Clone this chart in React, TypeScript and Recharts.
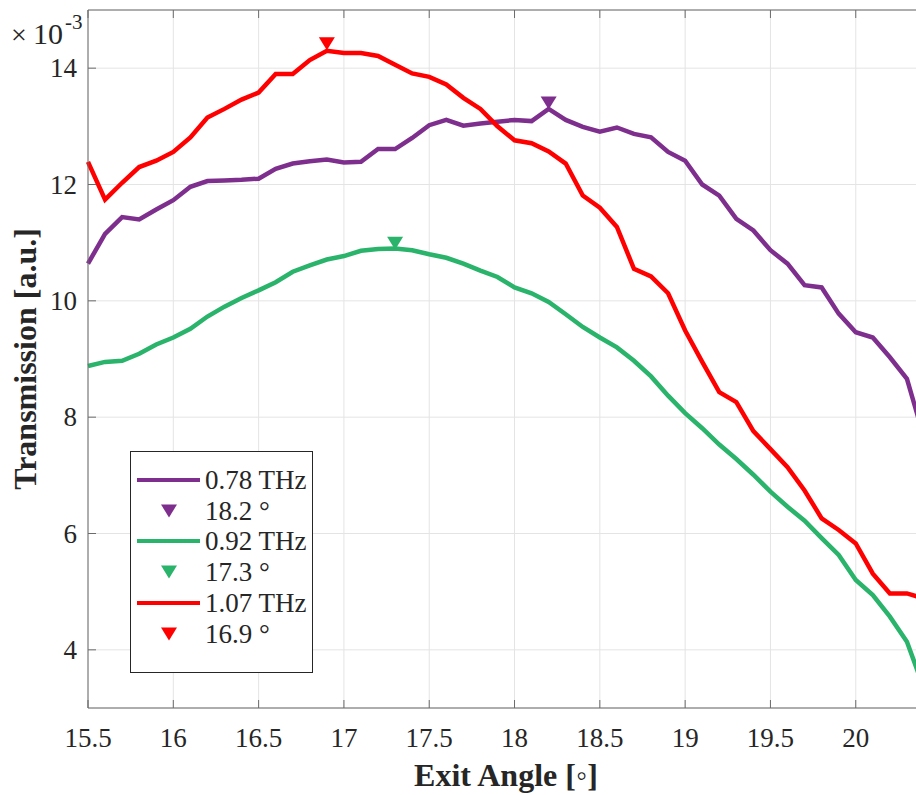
import React from 'react';
import { ComposedChart, Line, Scatter, XAxis, YAxis, CartesianGrid, Legend } from 'recharts';

// exit angle in degrees
const angles = [
  15.5, 15.6, 15.7, 15.8, 15.9, 16.0, 16.1, 16.2, 16.3, 16.4,
  16.5, 16.6, 16.7, 16.8, 16.9, 17.0, 17.1, 17.2, 17.3, 17.4,
  17.5, 17.6, 17.7, 17.8, 17.9, 18.0, 18.1, 18.2, 18.3, 18.4,
  18.5, 18.6, 18.7, 18.8, 18.9, 19.0, 19.1, 19.2, 19.3, 19.4,
  19.5, 19.6, 19.7, 19.8, 19.9, 20.0, 20.1, 20.2, 20.3, 20.4,
];

// transmission, x 1e-3
const thz078 = [
  10.64, 11.15, 11.44, 11.40, 11.57, 11.73, 11.96, 12.06, 12.07, 12.08,
  12.10, 12.27, 12.36, 12.40, 12.43, 12.38, 12.39, 12.61, 12.61, 12.80,
  13.02, 13.11, 13.01, 13.05, 13.08, 13.11, 13.09, 13.30, 13.11, 12.99,
  12.91, 12.98, 12.87, 12.81, 12.56, 12.41, 12.00, 11.81, 11.41, 11.21,
  10.87, 10.64, 10.27, 10.23, 9.78, 9.46, 9.37, 9.03, 8.66, 7.65,
];
const thz092 = [
  8.88, 8.95, 8.97, 9.09, 9.25, 9.37, 9.52, 9.73, 9.90, 10.05,
  10.18, 10.32, 10.50, 10.61, 10.71, 10.77, 10.86, 10.89, 10.90, 10.87,
  10.80, 10.74, 10.64, 10.52, 10.41, 10.23, 10.13, 9.98, 9.77, 9.55,
  9.37, 9.20, 8.97, 8.70, 8.37, 8.07, 7.81, 7.53, 7.28, 7.01,
  6.72, 6.46, 6.22, 5.92, 5.63, 5.20, 4.94, 4.57, 4.14, 3.33,
];
const thz107 = [
  12.39, 11.74, 12.03, 12.30, 12.41, 12.56, 12.81, 13.15, 13.30, 13.46,
  13.58, 13.90, 13.90, 14.14, 14.30, 14.26, 14.26, 14.21, 14.06, 13.91,
  13.85, 13.72, 13.49, 13.30, 13.00, 12.76, 12.71, 12.57, 12.36, 11.81,
  11.60, 11.27, 10.55, 10.42, 10.13, 9.49, 8.95, 8.43, 8.26, 7.76,
  7.45, 7.14, 6.74, 6.26, 6.06, 5.83, 5.31, 4.97, 4.97, 4.88,
];

const seriesNames = ['0.78 THz', '0.92 THz', '1.07 THz'];
const seriesKeys = ['thz078', 'thz092', 'thz107'];
const seriesColors = ['#7E2F8E', '#2AB36A', '#FF0000'];

// peak markers (drawn just above each curve)
const peakAngles = [18.2, 17.3, 16.9];
const peakMarks = [13.4, 10.99, 14.42];
const peakLabels = ['18.2 °', '17.3 °', '16.9 °'];

const xTicks = [15.5, 16, 16.5, 17, 17.5, 18, 18.5, 19, 19.5, 20];
const yTicks = [4, 6, 8, 10, 12, 14];

const chartData = angles.map((a, i) => ({
  angle: a,
  thz078: thz078[i],
  thz092: thz092[i],
  thz107: thz107[i],
}));

const FONT = "'Liberation Serif', 'Times New Roman', serif";
const AXIS = '#6b6b6b';
const TEXT = '#262626';

const DownTriangle = (props: any) => {
  const { cx, cy, fill } = props;
  if (cx == null || cy == null) return null;
  return (
    <polygon
      points={`${cx - 8},${cy - 6.5} ${cx + 8},${cy - 6.5} ${cx},${cy + 6.5}`}
      fill={fill}
    />
  );
};

const XTick = (props: any) => {
  const { x, y, payload } = props;
  return (
    <text x={x} y={y + 19} textAnchor="middle" fontFamily={FONT} fontSize={27} fill={TEXT}>
      {payload.value}
    </text>
  );
};

const YTick = (props: any) => {
  const { x, y, payload } = props;
  return (
    <text x={x} y={y + 9} textAnchor="end" fontFamily={FONT} fontSize={27} fill={TEXT}>
      {payload.value}
    </text>
  );
};

const LegendBox = () => {
  const rowY = [29, 60, 90, 121, 152, 183];
  return (
    <svg width={184} height={223} style={{ display: 'block' }}>
      <rect x={0.5} y={0.5} width={182} height={221} fill="#fff" stroke={TEXT} strokeWidth={1} />
      {seriesNames.map((name, i) => (
        <g key={name}>
          <line x1={7} x2={70} y1={rowY[i * 2]} y2={rowY[i * 2]} stroke={seriesColors[i]} strokeWidth={4} />
          <text x={75} y={rowY[i * 2] + 9} fontFamily={FONT} fontSize={27} fill={TEXT}>{name}</text>
          <DownTriangle cx={39} cy={rowY[i * 2 + 1]} fill={seriesColors[i]} />
          <text x={75} y={rowY[i * 2 + 1] + 9} fontFamily={FONT} fontSize={27} fill={TEXT}>{peakLabels[i]}</text>
        </g>
      ))}
    </svg>
  );
};

export default function App() {
  return (
    <div style={{ position: 'absolute', left: 0, top: 0, width: 916, height: 795, overflow: 'hidden', background: '#fff' }}>
      <ComposedChart width={924} height={795} data={chartData} margin={{ top: 0, right: 0, bottom: 0, left: 0 }}>
        <CartesianGrid stroke="#e4e4e4" strokeWidth={1} />
        <XAxis
          dataKey="angle"
          type="number"
          domain={[15.5, 20.4]}
          ticks={xTicks}
          interval={0}
          height={87}
          tickSize={-8}
          tickMargin={28}
          axisLine={{ stroke: AXIS }}
          tickLine={{ stroke: AXIS }}
          tick={<XTick />}
          label={{
            value: 'Exit Angle [◦]',
            position: 'insideBottom',
            offset: 9,
            style: { fontFamily: FONT, fontSize: 32, fontWeight: 'bold', fill: TEXT },
          }}
        />
        <XAxis
          xAxisId="top"
          orientation="top"
          dataKey="angle"
          type="number"
          domain={[15.5, 20.4]}
          ticks={xTicks}
          interval={0}
          height={10}
          tickSize={-8}
          tickFormatter={() => ''}
          axisLine={{ stroke: AXIS }}
          tickLine={{ stroke: AXIS }}
        />
        <YAxis
          type="number"
          domain={[3, 15]}
          ticks={yTicks}
          interval={0}
          width={88}
          tickSize={-8}
          tickMargin={19}
          axisLine={{ stroke: AXIS }}
          tickLine={{ stroke: AXIS }}
          tick={<YTick />}
          label={{
            value: 'Transmission [a.u.]',
            angle: -90,
            position: 'insideLeft',
            offset: 25,
            style: { fontFamily: FONT, fontSize: 32, fontWeight: 'bold', fill: TEXT, textAnchor: 'middle' },
          }}
        />
        {seriesKeys.map((k, i) => (
          <Line
            key={k}
            type="linear"
            dataKey={k}
            stroke={seriesColors[i]}
            strokeWidth={4.5}
            dot={false}
            activeDot={false}
            isAnimationActive={false}
          />
        ))}
        {peakAngles.map((a, i) => (
          <Scatter
            key={'peak' + i}
            data={[{ angle: a, mark: peakMarks[i] }]}
            dataKey="mark"
            fill={seriesColors[i]}
            shape={DownTriangle}
            isAnimationActive={false}
          />
        ))}
        <Legend
          layout="vertical"
          align="center"
          verticalAlign="middle"
          content={() => <LegendBox />}
          wrapperStyle={{ left: 130, top: 451, width: 184, height: 223 }}
        />
      </ComposedChart>
      <svg width={120} height={60} style={{ position: 'absolute', left: 0, top: 0 }}>
        <text y={44} fontFamily={FONT} fill={TEXT}>
          <tspan x={11} fontSize={28}>×</tspan>
          <tspan x={33} fontSize={30}>10</tspan>
          <tspan x={65} dy={-15} fontSize={21}>-3</tspan>
        </text>
      </svg>
    </div>
  );
}
